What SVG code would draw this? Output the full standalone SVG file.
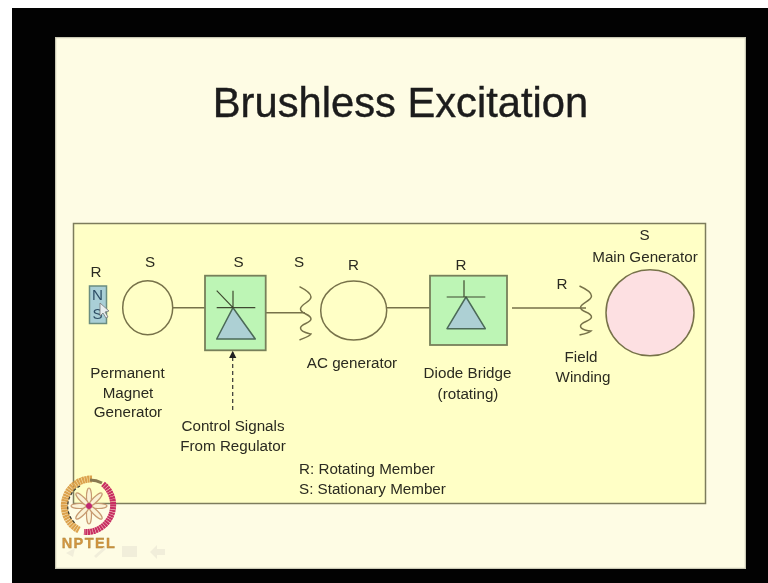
<svg xmlns="http://www.w3.org/2000/svg" width="768" height="583" viewBox="0 0 768 583">
<style>
.t{font-family:"Liberation Sans",Arial,sans-serif;font-size:15.200px;fill:#2b2b20;text-anchor:middle}
.w{fill:none;stroke:#77724a;stroke-width:1.500}
.g{fill:#bdf5b5;stroke:#77805a;stroke-width:1.800}
.d{fill:#add0d4;stroke:#4c6a58;stroke-width:1.500;stroke-linejoin:round}
.k{fill:none;stroke:#3f4a30;stroke-width:1.200}
</style>
<defs>
<marker id="ah" markerWidth="7" markerHeight="7" refX="5" refY="3" orient="auto"><path d="M0 0L6 3L0 6Z" fill="#222"/></marker>
<filter id="soft" x="0" y="0" width="100%" height="100%"><feGaussianBlur stdDeviation="0.450"/></filter>
</defs>
<rect width="768" height="583" fill="#fff"/>
<rect x="12" y="8" width="756" height="575" fill="#020202"/>
<g filter="url(#soft)">
<g id="slide">
<rect x="55.500" y="37.500" width="690" height="531" fill="#fefce4" stroke="#c9c8b4" stroke-width="1.500"/>
<rect x="73.500" y="223.500" width="632" height="280" fill="#ffffc6" stroke="#7d7c5c" stroke-width="1.500"/>
</g>
<text id="title" x="400.500" y="117" font-family="'Liberation Sans',Arial,sans-serif" font-size="41.700" fill="#1c1c1c" stroke="#1c1c1c" stroke-width=".4" text-anchor="middle">Brushless Excitation</text>
<g id="connectors">
<path class="w" d="M173 307.700H205M266 312.700H305M387 307.700H430M512 308H586"/>
<path d="M232.700 410V352" fill="none" stroke="#333" stroke-width="1.200" stroke-dasharray="4 3" marker-end="url(#ah)"/>
</g>
<g id="magnet">
<rect x="89.500" y="286" width="17" height="37.500" fill="#a9cfd6" stroke="#6b8d80" stroke-width="1.500"/>
<text class="t" x="97.500" y="300" style="fill:#2f4f66">N</text>
<text class="t" x="97.500" y="319" style="fill:#2f4f66">S</text>
<text class="t" x="96" y="277">R</text>
<path d="M100 303L100 316L103 313L106 318L108 317L105 312L109 311Z" fill="#e8eef0" stroke="#777" stroke-width=".8"/>
</g>
<g id="pmg">
<ellipse class="w" cx="147.700" cy="307.700" rx="25" ry="27"/>
<text class="t" x="150" y="267">S</text>
<text class="t" x="127.500" y="378">Permanent</text>
<text class="t" x="128" y="398">Magnet</text>
<text class="t" x="128" y="417">Generator</text>
</g>
<g id="controlled-bridge">
<rect class="g" x="205" y="275.700" width="60.700" height="74.600"/>
<path class="d" d="M233 307.700L216.700 339H255.300Z"/>
<path class="k" d="M216.700 307.700H255.300M233 290.700V307.700M216.700 290.700L233 307.700"/>
<text class="t" x="238.500" y="267">S</text>
<text class="t" x="233" y="431">Control Signals</text>
<text class="t" x="233" y="451">From Regulator</text>
</g>
<g id="ac-stator-coil">
<path class="w" d="M299.500 286.700C305 289.500 311 293 311 297C311 302 300.500 304 300.500 309C300.500 314 311 314 311 319C311 323 300.500 324 300.500 328C300.500 332 307 333 311 334C310 336 304 338 299.500 340"/>
<text class="t" x="299" y="267">S</text>
</g>
<g id="ac-generator">
<ellipse class="w" cx="353.700" cy="310.500" rx="33" ry="29.500"/>
<text class="t" x="353.500" y="270">R</text>
<text class="t" x="352" y="368">AC generator</text>
</g>
<g id="diode-bridge">
<rect class="g" x="430" y="275.700" width="77" height="69.300"/>
<path class="d" d="M466 297L447 328.700H485.300Z"/>
<path class="k" d="M446.700 297H485.300M464 280.300V297"/>
<text class="t" x="461" y="270">R</text>
<text class="t" x="467.500" y="378">Diode Bridge</text>
<text class="t" x="468" y="399">(rotating)</text>
</g>
<g id="field-winding">
<path class="w" d="M579.500 286C585 288.500 591.500 292 591.500 296C591.500 301 580.500 303 580.500 307.500C580.500 312 591.500 312 591.500 317C591.500 321 580.500 322 580.500 326C580.500 330 589 331 591 331C589 333 584 334 579.500 335"/>
<text class="t" x="562" y="289">R</text>
<text class="t" x="581" y="362">Field</text>
<text class="t" x="583" y="382">Winding</text>
</g>
<g id="main-generator">
<ellipse cx="650" cy="312.800" rx="44" ry="43" fill="#fde0e2" stroke="#77724a" stroke-width="1.500"/>
<text class="t" x="644.500" y="240">S</text>
<text class="t" x="645" y="262">Main Generator</text>
</g>
<g id="legend">
<text class="t" x="299" y="474" style="text-anchor:start">R: Rotating Member</text>
<text class="t" x="299" y="494" style="text-anchor:start">S: Stationary Member</text>
</g>
<g id="nptel-logo">
<path d="M79 530A27 27 0 0 1 92 479" fill="none" stroke="#dca24e" stroke-width="7" stroke-dasharray="2.200 .4"/>
<path d="M80 486A23 23 0 0 0 76 524" fill="none" stroke="#3a3a30" stroke-width="1.200" stroke-dasharray="3 2"/>
<path d="M90 480A27 27 0 0 1 102 483" fill="none" stroke="#8a7a50" stroke-width="3"/>
<path d="M103 484A27 27 0 0 1 84 532" fill="none" stroke="#c82f62" stroke-width="6" stroke-dasharray="2.200 .4"/>
<g fill="#fbf3d6" stroke="#c79a70" stroke-width="1.200">
<ellipse cx="89" cy="497" rx="2.500" ry="9"/>
<ellipse cx="89" cy="515" rx="2.500" ry="9"/>
<ellipse cx="98" cy="506" rx="9" ry="2.500"/>
<ellipse cx="80" cy="506" rx="9" ry="2.500"/>
<ellipse cx="95.500" cy="499.500" rx="2.500" ry="9" transform="rotate(45 95.500 499.500)"/>
<ellipse cx="82.500" cy="512.500" rx="2.500" ry="9" transform="rotate(45 82.500 512.500)"/>
<ellipse cx="82.500" cy="499.500" rx="2.500" ry="9" transform="rotate(-45 82.500 499.500)"/>
<ellipse cx="95.500" cy="512.500" rx="2.500" ry="9" transform="rotate(-45 95.500 512.500)"/>
</g>
<circle cx="89" cy="506" r="3" fill="#c02a70"/>
<text x="89" y="548" font-family="'Liberation Sans',Arial,sans-serif" font-size="14.500" font-weight="700" letter-spacing="1.400" fill="#d4953c" stroke="#a08040" stroke-width=".3" text-anchor="middle">NPTEL</text>
</g>
<g id="toolbar" fill="#f1eeda">
<rect x="122" y="546" width="15" height="11"/>
<path d="M150 552L157 545V549H165V555H157V559Z"/>
<path d="M66 553L75 548L73 557Z"/>
<path d="M94 556L104 547L106 549L96 558Z"/>
</g>
</g>
</svg>
